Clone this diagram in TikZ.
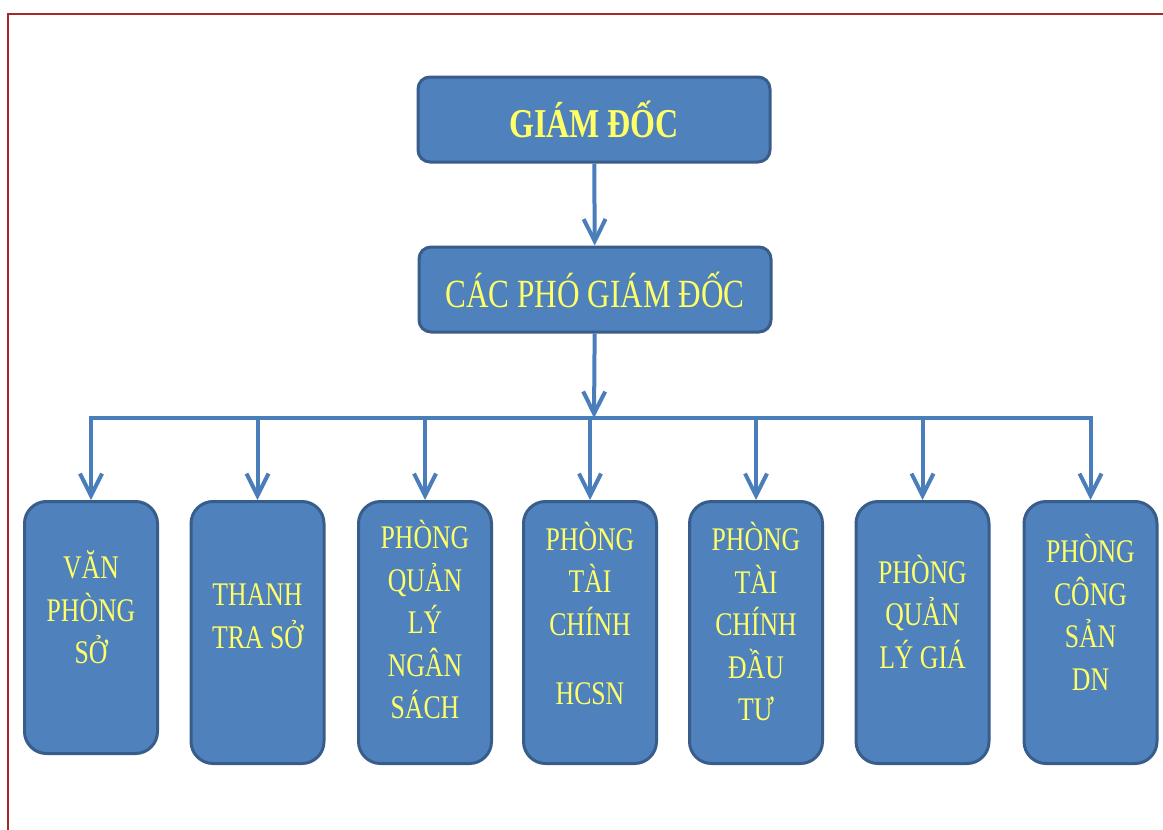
\documentclass[tikz,border=0pt]{standalone}
\usepackage{fontspec}
\usepackage{tikz}
\usetikzlibrary{arrows.meta,positioning}
\newfontfamily\vnserif[FakeStretch=0.78]{Liberation Serif}
\definecolor{boxfill}{HTML}{4F81BD}
\definecolor{boxline}{HTML}{385D8A}
\definecolor{linkblue}{HTML}{4A7EBB}
\definecolor{titleyellow}{HTML}{FFFF66}
\definecolor{framered}{HTML}{A52A2A}
\tikzset{
  headbox/.style={draw=boxline,fill=boxfill,line width=3pt,rounded corners=12pt,
                  minimum width=352pt,minimum height=85pt,inner sep=0pt,
                  text=titleyellow},
  unitbox/.style={draw=boxline,fill=boxfill,line width=3pt,rounded corners=22pt,
                  minimum width=133pt,minimum height=262pt,inner sep=0pt,anchor=north},
  unittext/.style={align=center,text=titleyellow,inner sep=0pt,
                   font=\vnserif\fontsize{33}{42.5}\selectfont},
  flowarr/.style={-{Straight Barb[length=22pt,width=22pt]},line width=4pt,color=linkblue},
  busline/.style={line width=4pt,color=linkblue,line cap=rect}
}

\begin{document}
\begin{tikzpicture}[x=1pt,y=-1pt]
  \useasboundingbox (0,0) rectangle (1163,830);
  % red frame of the page
  \draw[framered,line width=2pt] (8,830) -- (8,14) -- (1163,14);

  % top of the chart
  \node[headbox,font=\vnserif\fontsize{41}{41}\selectfont\bfseries] (giamdoc) at (594,119.5) {GIÁM ĐỐC};
  \node[headbox,font=\vnserif\fontsize{40}{40}\selectfont] (phogiamdoc) at (595,289.5) {CÁC PHÓ GIÁM ĐỐC};
  \coordinate (bus) at (594,418);

  % the seven units
  \node[unitbox,minimum height=252pt] (vanphong) at (91,500) {};
  \node[unitbox] (thanhtra) at (257.5,500) {};
  \node[unitbox] (quanlyns) at (425,500) {};
  \node[unitbox] (taichinhhc) at (590,500) {};
  \node[unitbox] (taichinhdt) at (756,500) {};
  \node[unitbox] (quanlygia) at (922.5,500) {};
  \node[unitbox] (congsan) at (1090.5,500) {};

  \node[unittext] (vanphongtxt) at ([yshift=20pt]vanphong.center) {VĂN\\PHÒNG\\SỞ};
  \node[unittext] (thanhtratxt) at ([yshift=16pt]thanhtra.center) {THANH\\TRA SỞ};
  \node[unittext] (quanlynstxt) at ([yshift=13pt]quanlyns.center) {PHÒNG\\QUẢN\\LÝ\\NGÂN\\SÁCH};
  \node[unittext] (taichinhhctxt) at ([yshift=19pt]taichinhhc.center) {PHÒNG\\TÀI\\CHÍNH\\[27pt]HCSN};
  \node[unittext] (taichinhdttxt) at ([yshift=11pt]taichinhdt.center) {PHÒNG\\TÀI\\CHÍNH\\ĐẦU\\TƯ};
  \node[unittext] (quanlygiatxt) at ([yshift=21pt]quanlygia.center) {PHÒNG\\QUẢN\\LÝ GIÁ};
  \node[unittext] (congsantxt) at ([yshift=20pt]congsan.center) {PHÒNG\\CÔNG\\SẢN\\DN};

  % connectors
  \draw[flowarr] (giamdoc) -- (phogiamdoc);
  \draw[flowarr] (phogiamdoc) -- (bus);
  \draw[busline] (vanphong.north |- bus) -- (congsan.north |- bus);
  \foreach \unit in {vanphong,thanhtra,quanlyns,taichinhhc,taichinhdt,quanlygia,congsan}
    \draw[flowarr] (\unit.north |- bus) -- (\unit.north);
\end{tikzpicture}
\end{document}
